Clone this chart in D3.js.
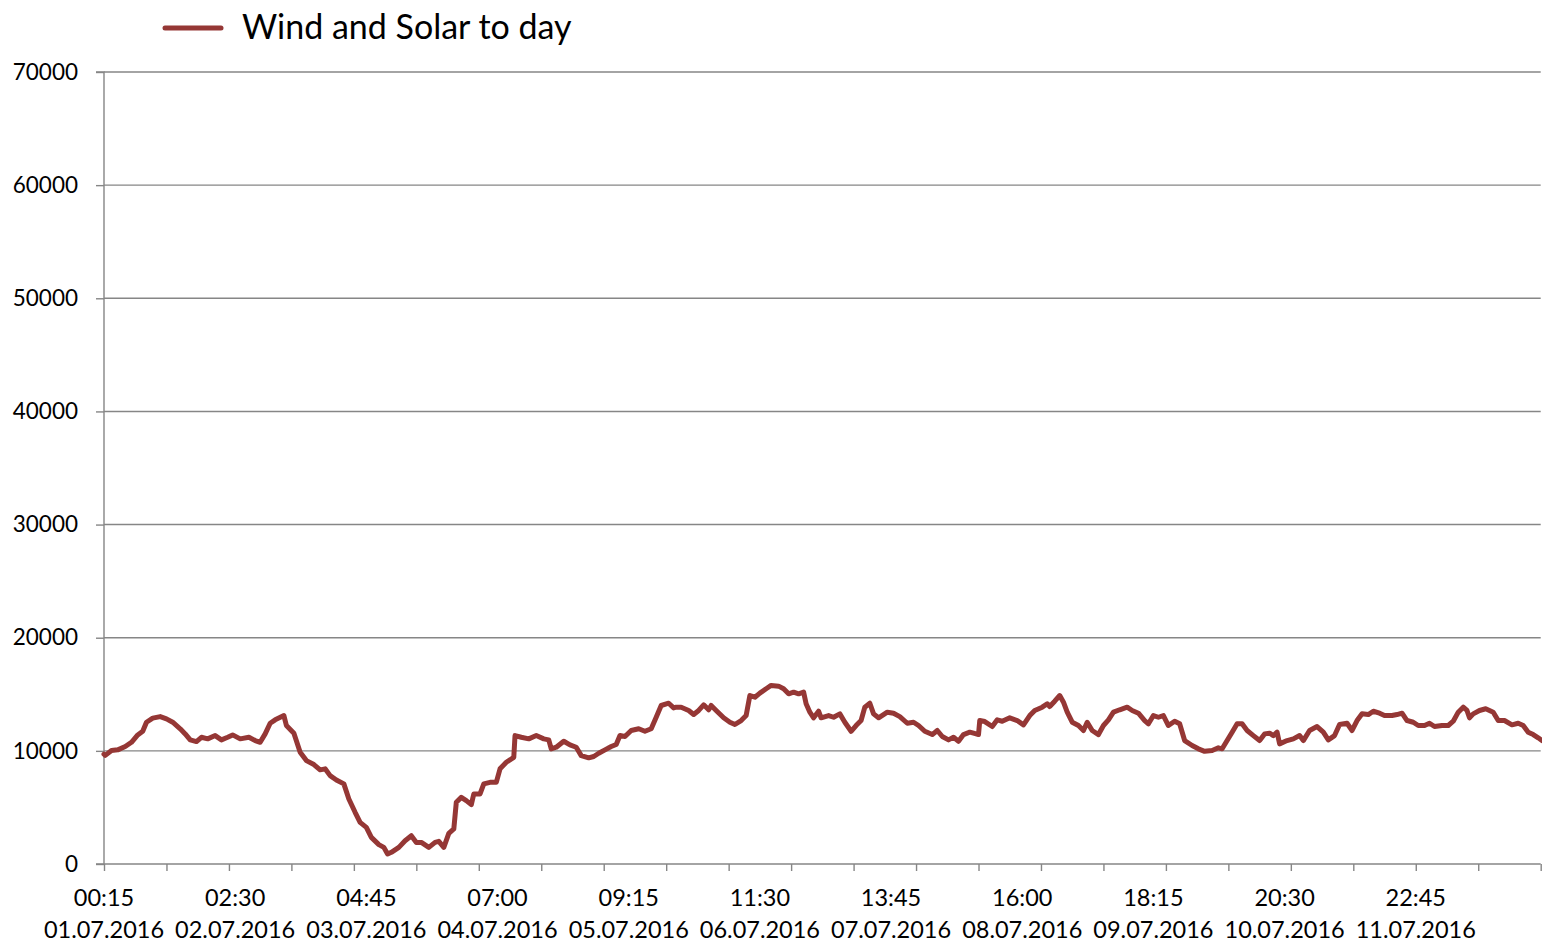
<!DOCTYPE html>
<html>
<head>
<meta charset="utf-8">
<script src="https://cdn.jsdelivr.net/npm/d3@7"></script>
<style>
  body { margin: 0; background: #fff; }
  svg text { font-family: Lato, "Noto Sans", sans-serif; fill: #000; }
</style>
</head>
<body>
<svg width="1542" height="944"></svg>
<script>
// quarter-hour slot index (0 = 01.07.2016 00:15) and value
var slots = [0, 1, 6, 11, 17, 22, 27, 31, 34, 39, 45, 50, 55, 61, 65, 69, 74, 78, 83, 89, 94, 99, 103, 109, 116, 121, 125, 129, 133, 137, 144, 146, 152, 157, 162, 168, 173, 177, 181, 186, 192, 196, 201, 205, 210, 214, 220, 224, 227,
    230, 236, 241, 246, 250, 254, 260, 265, 268, 272, 276, 280, 282, 286, 290, 294, 296, 301, 304, 309, 314, 317, 322, 328, 329, 334, 340, 346, 352, 356, 358, 362, 368, 373, 378, 382, 388, 392, 396, 401, 406, 410, 413, 417, 422, 428, 433, 438, 442, 446, 452, 456,
    458, 462, 468, 472, 476, 480, 484, 486, 490, 496, 501, 505, 510, 514, 517, 521, 525, 530, 534, 540, 544, 548, 552, 556, 560, 562, 565, 568, 572, 574, 580, 584, 589, 593, 598, 602, 606, 609, 613, 616, 620, 627, 632, 637, 643, 648, 652, 657, 663, 667, 671, 676, 680, 684, 688, 693,
    696, 700, 701, 705, 711, 715, 719, 725, 731, 736, 741, 745, 751, 755, 757, 761, 765, 768, 771, 775, 780, 784, 787, 791, 796, 800, 804, 808, 813, 819, 823, 828, 833, 836, 840, 844, 848, 852, 857, 861, 865, 871, 876, 881, 887, 892, 895, 899, 903, 907, 911, 915, 920, 925,
    929, 933, 936, 939, 941, 947, 952, 957, 960, 965, 971, 976, 980, 985, 989, 995, 999, 1003, 1007, 1012, 1016, 1021, 1025, 1031, 1035, 1039, 1043, 1048, 1052, 1057, 1061, 1065, 1071, 1076, 1080, 1084, 1088, 1091, 1093, 1096, 1101, 1106, 1112, 1116, 1121, 1127, 1132, 1136, 1140, 1144, 1148, 1151];

var values = [9700, 9600, 10030, 10090, 10380, 10760, 11410, 11730, 12530, 12890, 13030, 12830, 12530, 11950, 11500, 10970, 10820, 11200, 11060, 11350, 10970, 11200, 11410, 11060, 11200, 10910, 10760, 11500, 12440, 12740, 13120, 12240, 11560, 9880, 9140, 8790, 8320, 8410, 7810, 7430, 7080, 5750, 4570, 3680, 3240, 2350, 1710, 1470, 880,
    1030, 1470, 2060, 2500, 1910, 1910, 1470, 1910, 2000, 1470, 2710, 3100, 5450, 5890, 5600, 5250, 6190, 6190, 7080, 7220, 7220, 8410, 8990, 9430, 11350, 11200, 11060, 11350, 11060, 10970, 10180, 10320, 10850, 10530, 10320, 9580, 9380, 9500, 9790, 10090, 10380, 10560, 11350, 11270, 11800, 11950, 11730, 11950, 12970, 14010, 14210, 13800,
    13860, 13860, 13570, 13210, 13570, 14070, 13630, 14010, 13570, 12920, 12530, 12330, 12680, 13120, 14890, 14740, 15100, 15490, 15780, 15720, 15490, 15040, 15190, 15040, 15190, 14160, 13420, 12920, 13500, 12920, 13120, 12970, 13270, 12530, 11730, 12240, 12680, 13860, 14210, 13270, 12920, 13420, 13330, 13030, 12440, 12530, 12240, 11730, 11440, 11800, 11270, 10970, 11200, 10850, 11440, 11650,
    11560, 11440, 12680, 12590, 12150, 12740, 12620, 12920, 12680, 12300, 13120, 13570, 13860, 14160, 13920, 14390, 14890, 14300, 13420, 12530, 12240, 11800, 12530, 11800, 11440, 12240, 12740, 13420, 13630, 13860, 13570, 13330, 12680, 12390, 13120, 12970, 13120, 12240, 12620, 12390, 10910, 10470, 10180, 9960, 10030, 10270, 10180, 10910, 11650, 12390, 12390, 11800, 11350, 10910,
    11500, 11560, 11350, 11650, 10620, 10910, 11060, 11350, 10910, 11800, 12150, 11650, 10970, 11350, 12330, 12440, 11800, 12680, 13270, 13210, 13500, 13330, 13120, 13120, 13210, 13330, 12680, 12530, 12240, 12240, 12440, 12150, 12240, 12240, 12620, 13420, 13860, 13570, 12920, 13270, 13570, 13720, 13420, 12680, 12680, 12300, 12440, 12240, 11650, 11440, 11150, 10910];

var seriesName = "Wind and Solar to day";
var yTicks = [0, 10000, 20000, 30000, 40000, 50000, 60000, 70000];
var labelSlots = [0, 105, 210, 315, 420, 525, 630, 735, 840, 945, 1050];
var labelTimes = ["00:15", "02:30", "04:45", "07:00", "09:15", "11:30", "13:45", "16:00", "18:15", "20:30", "22:45"];
var labelDates = ["01.07.2016", "02.07.2016", "03.07.2016", "04.07.2016", "05.07.2016", "06.07.2016",
    "07.07.2016", "08.07.2016", "09.07.2016", "10.07.2016", "11.07.2016"];
var tickSlots = d3.range(0, 1151, 50);

var lineColor = "#953735";
var gridColor = "#868686";

var svg = d3.select("svg");

var x = d3.scaleLinear().domain([0, 1150]).range([104, 1540.7]);
var y = d3.scaleLinear().domain([0, 70000]).range([864, 72]);

// horizontal gridlines
svg.append("g")
    .selectAll("line")
    .data(yTicks.slice(1))
    .enter()
    .append("line")
    .attr("x1", x(0))
    .attr("x2", x(1150))
    .attr("y1", function (d) { return y(d); })
    .attr("y2", function (d) { return y(d); })
    .attr("stroke", gridColor)
    .attr("stroke-width", 1.4);

// y axis
var yAxis = svg.append("g")
    .attr("transform", "translate(" + x(0) + ",0)")
    .call(d3.axisLeft(y).tickValues(yTicks).tickSize(8).tickPadding(18).tickFormat(d3.format("d")));
yAxis.selectAll("path, line").attr("stroke", gridColor).attr("stroke-width", 1.4);
yAxis.select(".domain").attr("d", "M-8," + y(70000) + "H0V" + y(0) + "H-8");
yAxis.selectAll("text")
    .style("font-family", "Lato, 'Noto Sans', sans-serif")
    .style("font-size", "22.5px")
    .attr("fill", "#000");

// x axis
var xAxis = svg.append("g")
    .attr("transform", "translate(0," + y(0) + ")")
    .call(d3.axisBottom(x).tickValues(tickSlots).tickSize(7).tickFormat(""));
xAxis.selectAll("path, line").attr("stroke", gridColor).attr("stroke-width", 1.4);
xAxis.select(".domain").attr("d", "M" + x(0) + ",0H" + x(1150));

var lbl = svg.append("g")
    .selectAll("g")
    .data(labelSlots)
    .enter()
    .append("g")
    .attr("transform", function (d) { return "translate(" + x(d) + "," + y(0) + ")"; });

lbl.append("text")
    .attr("text-anchor", "middle")
    .attr("y", 42)
    .style("font-size", "23.5px")
    .text(function (d, i) { return labelTimes[i]; });

lbl.append("text")
    .attr("text-anchor", "middle")
    .attr("y", 74)
    .style("font-size", "23.5px")
    .text(function (d, i) { return labelDates[i]; });

// series
var line = d3.line()
    .x(function (d) { return x(d[0]); })
    .y(function (d) { return y(d[1]); });

svg.append("path")
    .datum(d3.zip(slots, values))
    .attr("d", line)
    .attr("fill", "none")
    .attr("stroke", lineColor)
    .attr("stroke-width", 5)
    .attr("stroke-linejoin", "round")
    .attr("stroke-linecap", "round");

// legend
var legend = svg.append("g").attr("transform", "translate(165,28)");
legend.append("line")
    .attr("x1", 0)
    .attr("x2", 56)
    .attr("stroke", lineColor)
    .attr("stroke-width", 5)
    .attr("stroke-linecap", "round");
legend.append("text")
    .attr("x", 77)
    .attr("y", 11)
    .style("font-size", "34px")
    .text(seriesName);
</script>
</body>
</html>
